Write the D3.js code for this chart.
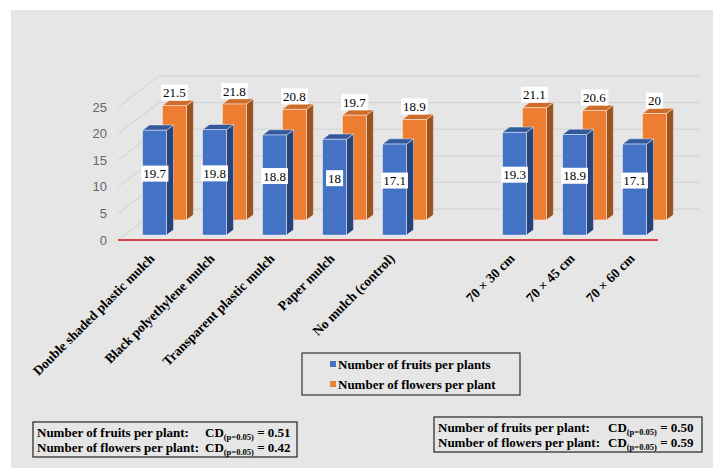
<!DOCTYPE html>
<html>
<head>
<meta charset="utf-8">
<script src="https://cdn.jsdelivr.net/npm/d3@7"></script>
<style>
  body { margin: 0; background: #ffffff; }
  svg { display: block; }
</style>
</head>
<body>
<svg id="chart" width="713" height="468"></svg>
<script>
// Treatments (an empty slot separates mulch types from plant spacings)
const categories = [
  "Double shaded plastic mulch",
  "Black polyethylene mulch",
  "Transparent plastic mulch",
  "Paper mulch",
  "No mulch (control)",
  "",
  "70 × 30 cm",
  "70 × 45 cm",
  "70 × 60 cm"
];
const fruits  = [19.7, 19.8, 18.8, 18.0, 17.1, null, 19.3, 18.9, 17.1];
const flowers = [21.5, 21.8, 20.8, 19.7, 18.9, null, 21.1, 20.6, 20.0];
const seriesNames = ["Number of fruits per plants", "Number of flowers per plant"];
const yTicks = [0, 5, 10, 15, 20, 25];

// Critical difference notes
const cdLeft  = { fruits: "0.51", flowers: "0.42" };
const cdRight = { fruits: "0.50", flowers: "0.59" };

const W = 713, H = 468;
const svg = d3.select("#chart");
const SERIF = "'Liberation Serif', 'Times New Roman', serif";
const SANS = "'Liberation Sans', Arial, sans-serif";

// panel background
svg.append("rect").attr("x", 11).attr("y", 10)
  .attr("width", W - 11).attr("height", H - 10).attr("fill", "#e6e6e6");

// scales: front plane of the 3D box
const x = d3.scaleBand().domain(d3.range(categories.length)).range([118, 658]).padding(0);
const y = d3.scaleLinear().domain([0, 25]).range([240, 107]);

// oblique depth projection (t = 0 front edge, t = 1 back wall)
const DX = 41, DY = 31;
const proj = (px, v, t) => [px + t * DX, y(v) - t * DY];

// walls: side-wall diagonals + back-wall gridlines
const grid = svg.append("g").attr("fill", "none").attr("stroke", "#d0d0d0").attr("stroke-width", 1);
yTicks.forEach(v => {
  const a = proj(x.range()[0], v, 0), b = proj(x.range()[0], v, 1), c = proj(x.range()[1], v, 1);
  grid.append("polyline").attr("points", [a, b, c].map(p => p.join(",")).join(" "));
});

// y tick labels
svg.append("g").selectAll("text").data(yTicks).join("text")
  .attr("x", 107).attr("y", d => y(d)).attr("dy", "0.35em")
  .attr("text-anchor", "end").attr("font-family", SANS).attr("font-size", 13)
  .attr("fill", "#666666").text(d => d);

// floor front edge
svg.append("line")
  .attr("x1", x.range()[0]).attr("x2", x.range()[1])
  .attr("y1", y(0)).attr("y2", y(0))
  .attr("stroke", "#d9434a").attr("stroke-width", 2);

// series rows in depth: back row drawn first
const series = [
  { name: seriesNames[1], values: flowers, t0: 0.645, t1: 0.815,
    front: "#ed7d31", top: "#cf6c28", side: "#9c531d", label: "above" },
  { name: seriesNames[0], values: fruits, t0: 0.16, t1: 0.33,
    front: "#4472c4", top: "#34599c", side: "#26437b", label: "center" }
];

const bw = x.bandwidth() * 0.4;
const pts = arr => arr.map(p => p.join(",")).join(" ");
const edge = "rgba(255,255,255,0.55)";

series.forEach(s => {
  const g = svg.append("g");
  const data = s.values.map((v, i) => ({ v, i })).filter(d => d.v != null);
  const bars = g.selectAll("g").data(data).join("g");
  bars.each(function (d) {
    const sel = d3.select(this);
    const bx = x(d.i) + (x.bandwidth() - bw) / 2;
    const f0 = proj(bx, 0, s.t0), f1 = proj(bx + bw, d.v, s.t0);
    // side face
    sel.append("polygon")
      .attr("points", pts([proj(bx + bw, 0, s.t0), proj(bx + bw, d.v, s.t0), proj(bx + bw, d.v, s.t1), proj(bx + bw, 0, s.t1)]))
      .attr("fill", s.side).attr("stroke", edge).attr("stroke-width", 0.8);
    // top face
    sel.append("polygon")
      .attr("points", pts([proj(bx, d.v, s.t0), proj(bx + bw, d.v, s.t0), proj(bx + bw, d.v, s.t1), proj(bx, d.v, s.t1)]))
      .attr("fill", s.top).attr("stroke", edge).attr("stroke-width", 0.8);
    // front face
    sel.append("rect")
      .attr("x", f0[0]).attr("y", f1[1]).attr("width", bw).attr("height", f0[1] - f1[1])
      .attr("fill", s.front).attr("stroke", edge).attr("stroke-width", 0.8);

    // value label in white box
    const cx = f0[0] + bw / 2;
    const cy = s.label === "center" ? (f0[1] + f1[1]) / 2 - 9 : f1[1] - 13;
    const lg = sel.append("g");
    const txt = lg.append("text").attr("x", cx).attr("y", cy).attr("dy", "0.35em")
      .attr("text-anchor", "middle").attr("font-family", SERIF).attr("font-size", 13)
      .attr("fill", "#000").text(d.v);
    const bb = txt.node().getBBox();
    lg.insert("rect", "text")
      .attr("x", bb.x - 2).attr("y", cy - 8).attr("width", bb.width + 4).attr("height", 16)
      .attr("fill", "#ffffff");
  });
});

// category labels, rotated
svg.append("g").selectAll("text").data(categories.map((c, i) => ({ c, i })).filter(d => d.c))
  .join("text")
  .attr("transform", d => `translate(${x(d.i) + x.bandwidth() / 2 + 4},${256}) rotate(-45)`)
  .attr("text-anchor", "end").attr("dy", "0.35em")
  .attr("font-family", SERIF).attr("font-size", 13.5).attr("font-weight", "bold")
  .attr("fill", "#000").text(d => d.c);

// legend
const lg = svg.append("g");
lg.append("rect").attr("x", 302).attr("y", 353).attr("width", 218).attr("height", 42)
  .attr("fill", "none").attr("stroke", "#333").attr("stroke-width", 1.2);
[series[1], series[0]].forEach((s, k) => {
  const yy = 364 + k * 20;
  lg.append("rect").attr("x", 330).attr("y", yy - 3).attr("width", 6).attr("height", 6).attr("fill", s.front);
  lg.append("text").attr("x", 338).attr("y", yy).attr("dy", "0.35em")
    .attr("font-family", SERIF).attr("font-size", 13).attr("font-weight", "bold")
    .attr("fill", "#000").text(s.name);
});

// CD note boxes
function cdBox(bx, by, bwid, bh, cdX, cd) {
  const g = svg.append("g").attr("font-family", SERIF).attr("font-weight", "bold").attr("fill", "#000");
  g.append("rect").attr("x", bx).attr("y", by).attr("width", bwid).attr("height", bh)
    .attr("fill", "none").attr("stroke", "#222").attr("stroke-width", 1.2);
  const rows = [["Number of fruits per plant:", cd.fruits], ["Number of flowers per plant:", cd.flowers]];
  rows.forEach((r, k) => {
    const base = by + 15 + k * 15;
    g.append("text").attr("x", bx + 4).attr("y", base).attr("font-size", 13).text(r[0]);
    const t = g.append("text").attr("x", cdX).attr("y", base).attr("font-size", 13);
    t.append("tspan").text("CD");
    t.append("tspan").attr("font-size", 8.5).attr("dy", 3).text("(p=0.05)");
    t.append("tspan").attr("dy", -3).text(" = " + r[1]);
  });
}
cdBox(33, 422, 264, 35, 205, cdLeft);
cdBox(434, 417, 268, 35, 608, cdRight);
</script>
</body>
</html>
